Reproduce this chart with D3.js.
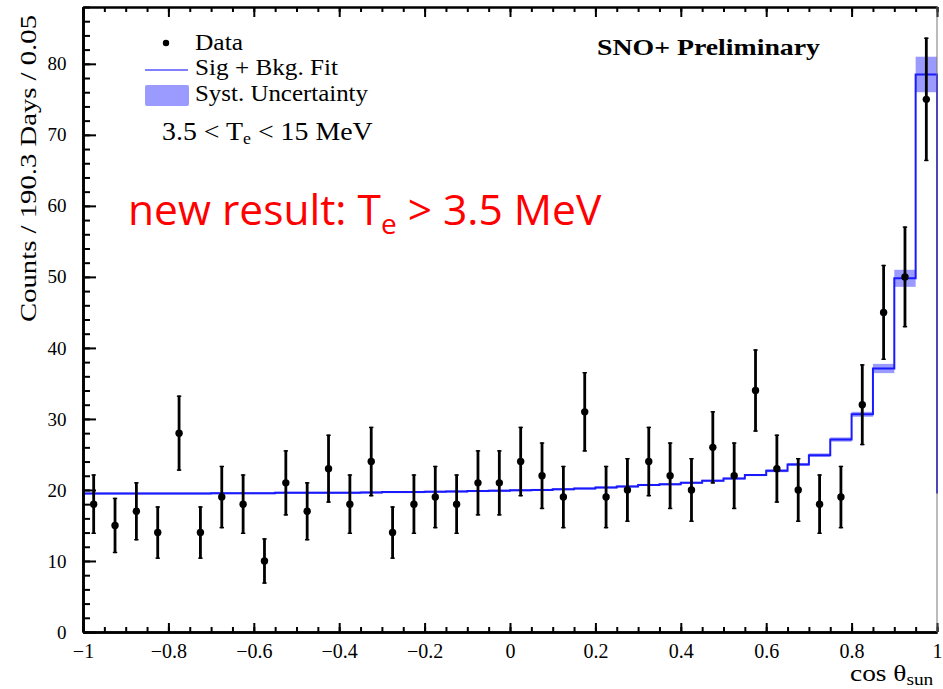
<!DOCTYPE html>
<html>
<head>
<meta charset="utf-8">
<script src="https://cdn.jsdelivr.net/npm/d3@7"></script>
<style>
  html, body { margin: 0; padding: 0; background: #fff; }
  svg { display: block; }
  .serif { font-family: "Liberation Serif", "Times New Roman", serif; }
</style>
</head>
<body>
<svg id="chart" width="943" height="689"></svg>
<script>
// ---------- data ----------
// bin edges: 40 bins of width 0.05 from -1 to 1
const binLow = [-1.00,-0.95,-0.90,-0.85,-0.80,-0.75,-0.70,-0.65,-0.60,-0.55,
                -0.50,-0.45,-0.40,-0.35,-0.30,-0.25,-0.20,-0.15,-0.10,-0.05,
                 0.00, 0.05, 0.10, 0.15, 0.20, 0.25, 0.30, 0.35, 0.40, 0.45,
                 0.50, 0.55, 0.60, 0.65, 0.70, 0.75, 0.80, 0.85, 0.90, 0.95];
const binWidth = 0.05;
const dataCounts = [18,15,17,14,28,14,19,18,10,21,
                    17,23,18,24,14,18,19,18,21,21,
                    24,22,19,31,19,20,24,22,20,26,
                    22,34,23,20,18,19,32,45,50,75];
const dataErrors = [4.2,3.9,4.1,3.7,5.3,3.7,4.4,4.2,3.2,4.6,
                    4.1,4.8,4.2,4.9,3.7,4.2,4.4,4.2,4.6,4.6,
                    4.9,4.7,4.4,5.6,4.4,4.5,4.9,4.7,4.5,5.1,
                    4.7,5.8,4.8,4.5,4.2,4.4,5.7,6.7,7.1,8.7];
const fitValues = [19.5,19.5,19.5,19.5,19.5,19.5,19.55,19.55,19.55,19.6,
                   19.6,19.6,19.6,19.65,19.7,19.7,19.75,19.8,19.85,19.9,
                   19.95,20.0,20.1,20.2,20.35,20.5,20.7,20.8,21.0,21.3,
                   21.6,22.1,22.7,23.6,24.9,27.1,30.65,37.1,49.8,78.5];
const systUnc = [0.15,0.15,0.15,0.15,0.15,0.15,0.15,0.15,0.15,0.15,
                 0.15,0.15,0.15,0.15,0.15,0.15,0.15,0.15,0.15,0.15,
                 0.15,0.15,0.15,0.15,0.15,0.15,0.15,0.15,0.15,0.15,
                 0.15,0.15,0.2,0.2,0.25,0.3,0.35,0.65,1.2,2.5];
const fitCloseValue = 19.5;   // the fit line drops to this level at cos = 1
const xMajorTicks = [-1,-0.8,-0.6,-0.4,-0.2,0,0.2,0.4,0.6,0.8,1];
const xTickLabels = ["\u22121","\u22120.8","\u22120.6","\u22120.4","\u22120.2","0","0.2","0.4","0.6","0.8","1"];
const yMajorTicks = [0,10,20,30,40,50,60,70,80];
const yTickLabels = ["0","10","20","30","40","50","60","70","80"];
const legendLabels = ["Data","Sig + Bkg. Fit","Syst. Uncertainty"];

// ---------- geometry ----------
const svg = d3.select("#chart");
const L = 83, R = 937, T = 7, B = 632;
const x = d3.scaleLinear().domain([-1, 1]).range([L, R]);
const y = d3.scaleLinear().domain([0, 88]).range([B, T]);

const fitBlue = "#1a1aff";
const bandBlue = "#9a9aff";

// ---------- systematic band ----------
svg.append("g").selectAll("rect").data(binLow).join("rect")
  .attr("x", (d) => x(d))
  .attr("width", x(binWidth) - x(0))
  .attr("y", (d, i) => y(fitValues[i] + systUnc[i]))
  .attr("height", (d, i) => y(fitValues[i] - systUnc[i]) - y(fitValues[i] + systUnc[i]))
  .attr("fill", bandBlue);

// ---------- fit step line ----------
const stepPts = [];
binLow.forEach((lo, i) => {
  stepPts.push([lo, fitValues[i]]);
  stepPts.push([lo + binWidth, fitValues[i]]);
});
stepPts.push([1, fitCloseValue]);
svg.append("path")
  .attr("d", d3.line().x(d => x(d[0])).y(d => y(d[1]))(stepPts))
  .attr("fill", "none")
  .attr("stroke", fitBlue)
  .attr("stroke-width", 2);

// ---------- axes ----------
const minorX = d3.range(-1, 1.0001, 0.05).map(v => +v.toFixed(2));
const minorY = d3.range(0, 88.001, 2);

function styleAxis(g, w) {
  g.select(".domain").attr("stroke", "#000").attr("stroke-width", w);
  g.selectAll(".tick line").attr("stroke", "#000").attr("stroke-width", 2);
}

// bottom minor
svg.append("g").attr("transform", `translate(0,${B})`)
  .call(d3.axisBottom(x).tickValues(minorX).tickFormat("").tickSize(-5).tickSizeOuter(0))
  .call(g => styleAxis(g, 2.6));
// bottom major
svg.append("g").attr("transform", `translate(0,${B})`)
  .call(d3.axisBottom(x).tickValues(xMajorTicks)
    .tickFormat((d, i) => xTickLabels[i]).tickSize(-9).tickSizeOuter(0).tickPadding(11.5))
  .call(g => styleAxis(g, 2.6))
  .call(g => g.selectAll("text").attr("class", "serif").attr("font-size", 20).attr("fill", "#000"));
// top
svg.append("g").attr("transform", `translate(0,${T})`)
  .call(d3.axisTop(x).tickValues(minorX).tickFormat("").tickSize(-5).tickSizeOuter(0))
  .call(g => styleAxis(g, 2));
svg.append("g").attr("transform", `translate(0,${T})`)
  .call(d3.axisTop(x).tickValues(xMajorTicks).tickFormat("").tickSize(-10).tickSizeOuter(0))
  .call(g => styleAxis(g, 2));
// left
svg.append("g").attr("transform", `translate(${L},0)`)
  .call(d3.axisLeft(y).tickValues(minorY).tickFormat("").tickSize(-7).tickSizeOuter(0))
  .call(g => styleAxis(g, 2.6));
svg.append("g").attr("transform", `translate(${L},0)`)
  .call(d3.axisLeft(y).tickValues(yMajorTicks)
    .tickFormat((d, i) => yTickLabels[i]).tickSize(-13).tickSizeOuter(0).tickPadding(16.5))
  .call(g => styleAxis(g, 2.6))
  .call(g => g.selectAll("text").attr("class", "serif").attr("font-size", 19).attr("fill", "#000"));
// right frame
svg.append("line").attr("x1", R).attr("x2", R).attr("y1", T).attr("y2", B)
  .attr("stroke", "#777").attr("stroke-width", 1);

// ---------- data points ----------
const pts = svg.append("g");
const cx = (i) => x(binLow[i] + binWidth / 2);
pts.selectAll("line.err").data(dataCounts).join("line").attr("class", "err")
  .attr("x1", (d, i) => cx(i)).attr("x2", (d, i) => cx(i))
  .attr("y1", (d, i) => y(d + dataErrors[i]))
  .attr("y2", (d, i) => y(d - dataErrors[i]))
  .attr("stroke", "#000").attr("stroke-width", 2.8);
// small end caps
pts.selectAll("line.capT").data(dataCounts).join("line").attr("class", "capT")
  .attr("x1", (d, i) => cx(i) - 2.2).attr("x2", (d, i) => cx(i) + 2.2)
  .attr("y1", (d, i) => y(d + dataErrors[i]) + 0.7)
  .attr("y2", (d, i) => y(d + dataErrors[i]) + 0.7)
  .attr("stroke", "#000").attr("stroke-width", 1.4);
pts.selectAll("line.capB").data(dataCounts).join("line").attr("class", "capB")
  .attr("x1", (d, i) => cx(i) - 2.2).attr("x2", (d, i) => cx(i) + 2.2)
  .attr("y1", (d, i) => y(d - dataErrors[i]) - 0.7)
  .attr("y2", (d, i) => y(d - dataErrors[i]) - 0.7)
  .attr("stroke", "#000").attr("stroke-width", 1.4);
pts.selectAll("circle").data(dataCounts).join("circle")
  .attr("cx", (d, i) => cx(i))
  .attr("cy", d => y(d))
  .attr("r", 3.7)
  .attr("fill", "#000");

// ---------- legend ----------
const leg = svg.append("g").attr("class", "serif");
leg.append("circle").attr("cx", 166).attr("cy", 43).attr("r", 3.2).attr("fill", "#000");
leg.append("line").attr("x1", 145).attr("x2", 188).attr("y1", 70).attr("y2", 70)
  .attr("stroke", "#8080ff").attr("stroke-width", 2);
leg.append("rect").attr("x", 145).attr("y", 85).attr("width", 44).attr("height", 21)
  .attr("rx", 2).attr("fill", bandBlue);
const legY = [49.5, 75, 100.5];
const legW = [48, 143, 173];
legendLabels.forEach((t, i) => {
  leg.append("text").attr("x", 195).attr("y", legY[i]).attr("font-size", 24)
    .attr("textLength", legW[i]).attr("lengthAdjust", "spacingAndGlyphs")
    .attr("fill", "#000").text(t);
});

// energy range text (horizontally widened to match the reference face)
const er = svg.append("text").attr("class", "serif")
  .attr("transform", "translate(162,139.5) scale(1.115,1)")
  .attr("font-size", 25).attr("fill", "#000");
er.append("tspan").text("3.5 < T");
er.append("tspan").attr("font-size", 16).attr("dy", 4).text("e");
er.append("tspan").attr("dy", -4).text(" < 15 MeV");

// SNO+ Preliminary
svg.append("text").attr("class", "serif").attr("x", 597).attr("y", 54.5)
  .attr("font-size", 24).attr("font-weight", "bold").attr("fill", "#000")
  .attr("textLength", 223).attr("lengthAdjust", "spacingAndGlyphs")
  .text("SNO+ Preliminary");

// red annotation
const red = svg.append("text").attr("x", 128).attr("y", 224.5)
  .attr("font-family", "'Open Sans', 'Noto Sans', sans-serif")
  .attr("font-size", 42.5).attr("fill", "#ff0000");
red.append("tspan").text("new result: T");
red.append("tspan").attr("font-size", 28).attr("dy", 9).text("e");
red.append("tspan").attr("dy", -9).text(" > 3.5 MeV");

// axis titles
svg.append("text").attr("class", "serif")
  .attr("transform", "translate(36,168.5) rotate(-90)")
  .attr("text-anchor", "middle").attr("font-size", 23).attr("fill", "#000")
  .attr("textLength", 307).attr("lengthAdjust", "spacingAndGlyphs")
  .text("Counts / 190.3 Days / 0.05");

const xt = svg.append("text").attr("class", "serif")
  .attr("transform", "translate(850,681) scale(1.14,1)")
  .attr("font-size", 24).attr("fill", "#000");
xt.append("tspan").text("cos \u03B8");
xt.append("tspan").attr("font-size", 17).attr("dy", 4).text("sun");
</script>
</body>
</html>
